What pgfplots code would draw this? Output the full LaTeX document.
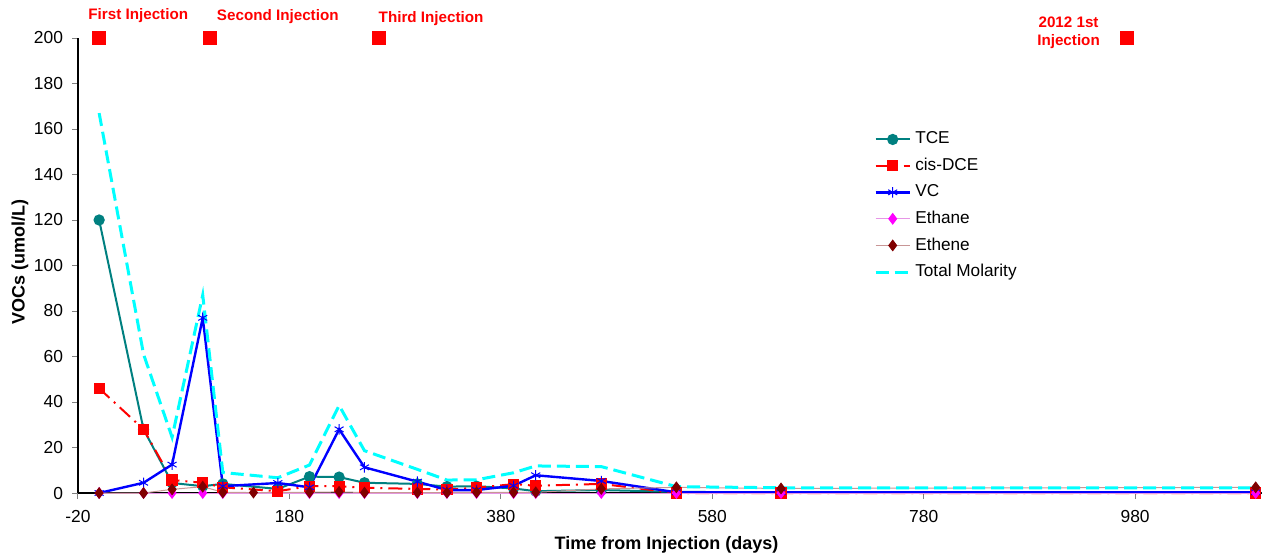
\documentclass[border=0pt]{standalone}
\usepackage{pgfplots}
\pgfplotsset{compat=1.18}
\usepackage{fontspec}
\setmainfont{Liberation Sans}
\definecolor{tce}{RGB}{0,128,128}
\definecolor{ethene}{RGB}{128,0,0}
\definecolor{etheneline}{RGB}{200,150,150}
\definecolor{ethaneline}{RGB}{230,150,230}
\definecolor{tot}{RGB}{0,255,255}
\definecolor{mag}{RGB}{255,0,255}
\begin{document}
\begin{tikzpicture}
\begin{axis}[
  scale only axis,
  width=592pt, height=227.5pt,
  xmin=-20, xmax=1100, ymin=0, ymax=200,
  xtick={-20,180,380,580,780,980},
  ytick={0,20,...,200},
  axis x line*=bottom, axis y line*=left,
  axis line style={-, black, line width=0.6pt},
  tick align=outside,
  major tick length=3pt,
  major tick style={gray, line width=0.5pt},
  tick label style={font=\fontsize{8.7}{10}\selectfont},
  /pgf/number format/assume math mode=true,
  yticklabel style={xshift=-1pt},
  xticklabel style={yshift=-2pt},
  clip=false,
  xlabel={\bfseries Time from Injection (days)},
  ylabel={\bfseries VOCs (umol/L)},
  label style={font=\fontsize{9}{11}\selectfont},
  x label style={at={(axis description cs:0.497,-0.114)}, anchor=center},
  y label style={at={(axis description cs:-0.049,0.508)}, anchor=center},
  legend style={draw=none, fill=none, at={(rel axis cs:0.667,0.812)}, anchor=north west,
    font=\fontsize{8.6}{10}\selectfont, row sep=1.6pt},
  legend cell align=left,
]
\addplot[color=tce, line width=1pt, mark=*, mark size=2.3pt, mark options={solid, fill=tce}] coordinates {
(0,120)(42,28)(69,4.4)(98,3)(117,4)(169,1.8)(199,7.2)(227,7)(251,4.5)(301,4)(329,2.8)(357,3)(392,2)(413,0.8)(475,1.3)(546,0.5)(645,0.3)(1094,0.2)};
\addlegendentry{TCE}
\addplot[color=red, line width=1pt, dash pattern=on 7pt off 3pt on 1pt off 3pt, mark=square*, mark size=2.3pt, mark options={solid, fill=red}] coordinates {
(0,46)(42,28)(69,5.7)(98,4.5)(117,2.5)(169,0.8)(199,3)(227,3)(251,2.3)(301,1.8)(329,1.5)(357,2.3)(392,3.9)(413,3.2)(475,4)(546,0)(645,0)(1094,0)};
\addlegendentry{cis-DCE}
\addplot[color=blue, line width=1.2pt, mark=asterisk, mark size=2.6pt, mark options={solid, line width=0.5pt}] coordinates {
(0,0)(42,4.5)(69,12.5)(98,77)(117,3)(169,4.4)(199,2.5)(227,28)(251,11.3)(301,5)(329,1.3)(357,1.3)(392,3.2)(413,7.8)(475,5.3)(546,0.3)(645,0.3)(1094,0.3)};
\addlegendentry{VC}
\addplot[color=ethaneline, line width=0.5pt, mark=diamond*, mark size=2.6pt, mark options={solid, draw=mag, fill=mag}] coordinates {
(0,0)(42,0)(69,0)(98,0)(117,0)(199,0)(227,0)(251,0)(301,0)(329,0)(357,0)(392,0)(413,0)(475,0)(546,0)(645,0)(1094,0)};
\addlegendentry{Ethane}
\addplot[color=etheneline, line width=0.5pt, mark=diamond*, mark size=2.6pt, mark options={solid, draw=ethene, fill=ethene}] coordinates {
(0,0)(42,0)(69,1.6)(98,2.8)(117,0.3)(146,0.2)(199,0.3)(227,0.5)(251,0.2)(301,0.2)(329,0.2)(357,0.3)(392,0.3)(413,0.3)(475,1.8)(546,2.5)(645,2)(1094,2.5)};
\addlegendentry{Ethene}
\addplot[color=tot, line width=1.5pt, dash pattern=on 6.5pt off 3pt] coordinates {
(0,167)(42,61)(69,24.5)(98,87)(117,9)(169,6.7)(199,12.3)(227,38.5)(251,18.6)(301,10.4)(329,5.7)(357,5.8)(392,8.9)(413,11.9)(475,11.6)(546,2.8)(645,2.3)(1094,2.3)};
\addlegendentry{Total Molarity}
\addplot[only marks, mark=square*, mark size=3.2pt, color=red, forget plot] coordinates {
(0,200)(105,200)(265,200)(972,200)};
\node[text=red, font=\bfseries\fontsize{7.6}{9}\selectfont] at (axis cs:37,209.7) {First Injection};
\node[text=red, font=\bfseries\fontsize{7.6}{9}\selectfont] at (axis cs:169,209.3) {Second Injection};
\node[text=red, font=\bfseries\fontsize{7.6}{9}\selectfont] at (axis cs:314,208.4) {Third Injection};
\node[text=red, font=\bfseries\fontsize{7.6}{9}\selectfont, align=center] at (axis cs:917,202.2) {2012 1st\\Injection};
\end{axis}
\pgfresetboundingbox
\path (-39pt,-33pt) rectangle (598pt,246.5pt);
\end{tikzpicture}
\end{document}
